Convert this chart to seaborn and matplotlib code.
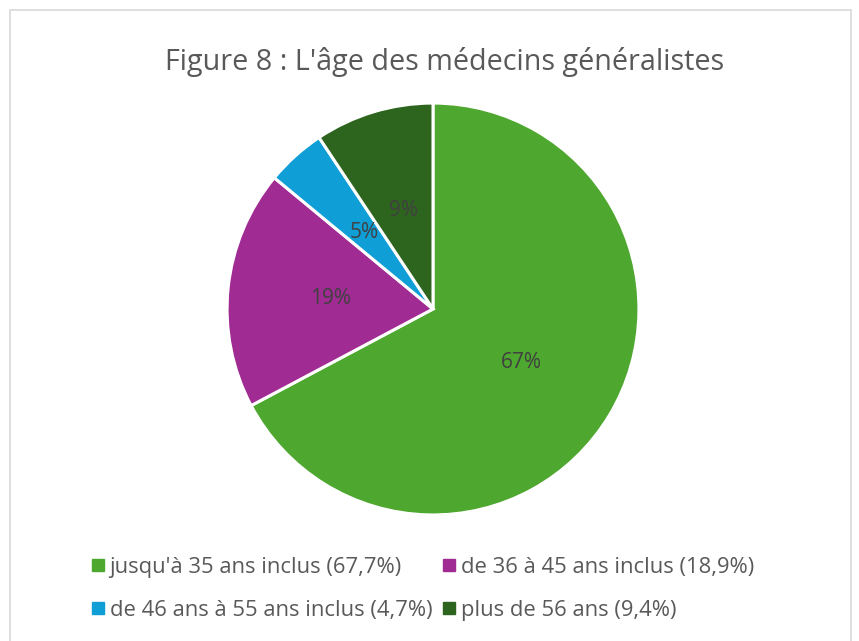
import matplotlib
matplotlib.use("Agg")
import matplotlib.pyplot as plt
import seaborn as sns
from matplotlib.lines import Line2D
from matplotlib.patches import Rectangle

sns.set_theme(style="white")
plt.rcParams["font.family"] = ["Open Sans", "DejaVu Sans"]

# data
categories = [
    "jusqu'à 35 ans inclus (67,7%)",
    "de 36 à 45 ans inclus (18,9%)",
    "de 46 ans à 55 ans inclus (4,7%)",
    "plus de 56 ans (9,4%)",
]
values = [67.7, 18.9, 4.7, 9.4]
pct_labels = ["67%", "19%", "5%", "9%"]
colors = ["#4EA72E", "#A02B93", "#0F9ED5", "#2E651E"]
title = "Figure 8 : L'âge des médecins généralistes"

W, H = 859, 641
fig = plt.figure(figsize=(W / 100, H / 100), dpi=100)

# light grey frame like the Excel chart area
fig.patches.append(Rectangle((10 / W, -0.05), 841 / W, 1 - 10 / H + 0.05,
                             transform=fig.transFigure, fill=False,
                             edgecolor="#D9D9D9", linewidth=1.2))

cx, cy, r = 433, 309, 208
ax = fig.add_axes([(cx - r) / W, (H - cy - r) / H, 2 * r / W, 2 * r / H])
wedges, texts, autotexts = ax.pie(
    values, colors=colors, startangle=90, counterclock=False,
    autopct="%1.0f%%", pctdistance=0.5,
    wedgeprops=dict(edgecolor="white", linewidth=2.2),
    textprops=dict(color="#404040", fontsize=15),
)
for t, lab in zip(autotexts, pct_labels):
    t.set_text(lab)
ax.set_xlim(-1.01, 1.01)
ax.set_ylim(-1.01, 1.01)
ax.set_aspect("equal")
ax.axis("off")

fig.text(445 / W, 1 - 62 / H, title, ha="center", va="center",
         fontsize=20.7, color="#595959")


def handle(c):
    return Line2D([], [], marker="s", linestyle="none", markersize=9,
                  markerfacecolor=c, markeredgecolor=c)


# legend is filled column-first, so reorder to get Excel's row layout
order = [0, 2, 1, 3]
fig.legend([handle(colors[i]) for i in order], [categories[i] for i in order],
           ncol=2, loc="center left", bbox_to_anchor=(80 / W, 1 - 589 / H),
           frameon=False, fontsize=15.8, labelcolor="#595959",
           handletextpad=0.15, borderaxespad=0, handlelength=0.8,
           columnspacing=0.35, labelspacing=1.0)

fig.savefig("out.png", dpi=100)
